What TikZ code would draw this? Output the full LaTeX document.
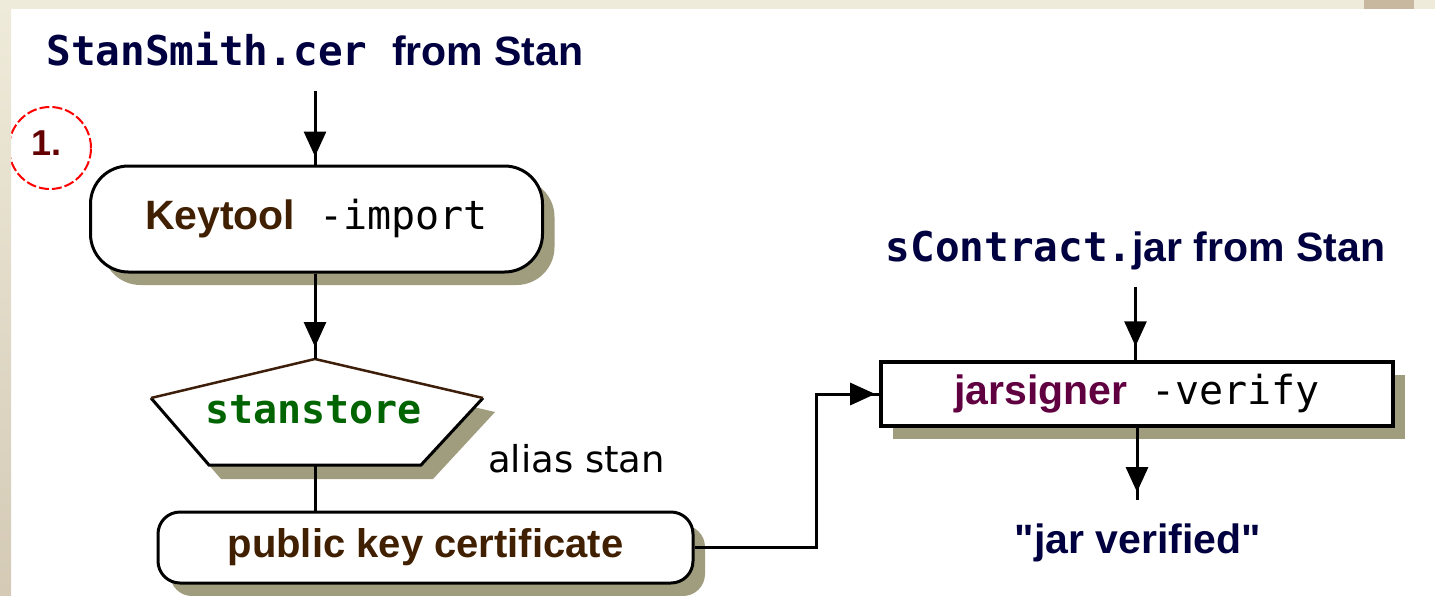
\documentclass[tikz,border=0pt]{standalone}
\usepackage{fontspec}
\setmainfont{Liberation Sans}
\newfontfamily\monof{DejaVu Sans Mono}
\newfontfamily\dvs{DejaVu Sans}
\newfontfamily\qfont[Ligatures=TeXOff]{Liberation Sans}
\usetikzlibrary{arrows.meta,decorations.markings,shadows}
\definecolor{navy}{RGB}{0,0,64}
\definecolor{brn}{RGB}{64,32,0}
\definecolor{pbrn}{RGB}{60,30,10}
\definecolor{grn}{RGB}{0,100,0}
\definecolor{mag}{RGB}{96,0,64}
\definecolor{dred}{RGB}{100,0,0}
\definecolor{shcol}{RGB}{160,157,126}
\definecolor{beigeA}{RGB}{239,235,218}
\definecolor{beigeB}{RGB}{212,202,182}
\definecolor{tanpatch}{RGB}{200,184,160}
\begin{document}
\begin{tikzpicture}[x=1pt,y=-1pt,
  fs/.style={font=\fontsize{#1pt}{#1pt}\selectfont},
  box/.style={draw=black, line width=3pt, fill=white, inner sep=0pt,
    drop shadow={shadow xshift=12pt, shadow yshift=-13pt, fill=shcol, opacity=1}},
  lbl/.style={anchor=base, inner xsep=0pt},
  arr/.style={line width=3pt, postaction={decorate},
    decoration={markings, mark=at position -#1 with {\arrow{Triangle[width=22pt,length=25pt]}}}},
  arr/.default=10pt]
\useasboundingbox (0,0) rectangle (1435,595);
\fill[white] (0,0) rectangle (1435,595);

% step marker
\node[circle, draw=red, line width=2pt, dash pattern=on 10pt off 3pt, minimum size=82pt, inner sep=0pt] (c1) at (50,148) {};
\node[fs=36, text=dred, anchor=base, inner sep=0pt] (n1) at (46.5,155) {\bfseries 1.};

% source texts
\node[lbl, fs=41, text=navy, inner ysep=25pt] (t1) at (315,65) {{\monof\bfseries StanSmith.cer }\bfseries from Stan};
\node[lbl, fs=41, text=navy, inner ysep=17pt] (t2) at (1135.5,261) {{\monof\bfseries sContract.}\bfseries jar from Stan};

% keytool
\node[box, rounded corners=38pt, minimum width=452pt, minimum height=106pt, fs=41] (kt) at (316.5,219)
  {\textcolor{brn}{\bfseries Keytool}{\monof\fontsize{40pt}{40pt}\selectfont\space-import}};

% keystore pentagon
\coordinate (ssTop) at (315,359);
\coordinate (ssBot) at (315,465);
\fill[shcol] (327,373) -- (495,412) -- (433,479) -- (221,479) -- (163,412) -- cycle;
\fill[white] (315,359) -- (483,398) -- (421,465) -- (209,465) -- (151,398) -- cycle;
\draw[line width=3pt, line join=miter] (151,398) -- (209,465) -- (421,465) -- (483,398);
\draw[line width=2.5pt, draw=pbrn] (483,398) -- (315,359) -- (151,398);
\node[lbl, fs=40, text=grn, inner sep=0pt] (ss) at (313.5,423) {\monof\bfseries stanstore};
\node[anchor=base west, inner sep=0pt, fs=37] (al) at (488,472) {\dvs alias stan};

% public key certificate
\node[box, rounded corners=22pt, minimum width=535pt, minimum height=71pt, fs=40, text=brn] (pk) at (425.5,547.5)
  {\bfseries public key certificate};

% jarsigner
\node[box, line width=3.5pt, minimum width=512pt, minimum height=64pt, fs=41] (js) at (1137,394)
  {\textcolor{mag}{\bfseries jarsigner}{\monof\fontsize{40pt}{40pt}\selectfont\space-verify}};

\node[lbl, fs=41, text=navy, inner ysep=23pt] (jv) at (1138,553) {\qfont\bfseries "jar verified"};

% connectors
\draw[arr=8pt] (t1.south) -- (t1.south |- kt.north);
\draw[arr=12pt] (kt.south -| ssTop) -- (ssTop);
\draw[line width=3pt] (ssBot) -- (ssBot |- pk.north);
\draw[arr=4pt] (pk.east) -| ([xshift=-63pt]js.west) |- (js.west);
\draw[arr=14pt] (t2.south) -- (t2.south |- js.north);
\draw[arr=8pt] (js.south) -- (js.south |- jv.north);

% frame strips
\fill[beigeA] (0,0) rectangle (1435,9);
\shade[top color=beigeA, bottom color=beigeB] (0,0) rectangle (11,595);
\fill[tanpatch] (1364,0) rectangle (1414,9);
\end{tikzpicture}
\end{document}
